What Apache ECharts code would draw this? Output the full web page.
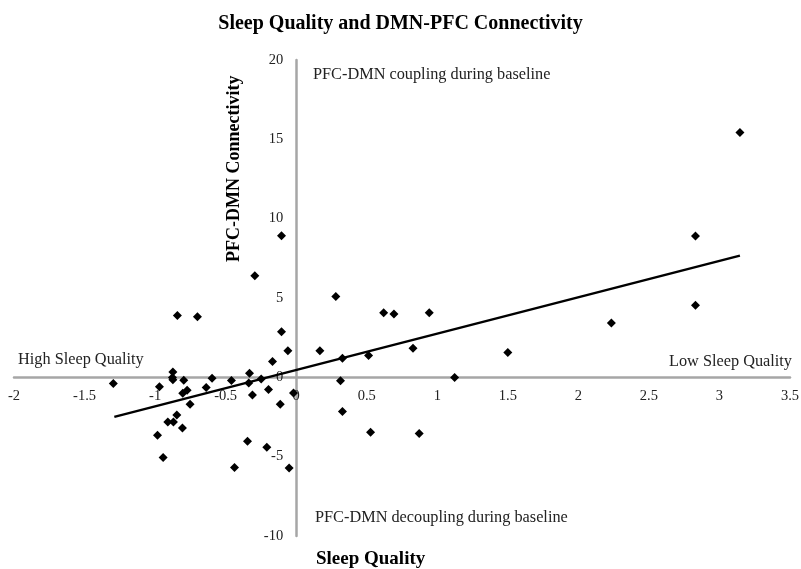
<!DOCTYPE html>
<html>
<head>
<meta charset="utf-8">
<script src="https://cdn.jsdelivr.net/npm/echarts@6/dist/echarts.min.js"></script>
<style>
html, body { margin: 0; padding: 0; background: #fff; }
#chart { width: 801px; height: 569px; }
</style>
</head>
<body>
<div id="chart"></div>
<script>
// sleep quality score (x) and PFC-DMN connectivity (y)
var sleepQuality = [
    3.145, 2.83, 2.83, 2.234, 1.50, -0.104, -0.293, 0.281, 0.62, 0.693,
    0.943, -0.104, -0.059, 0.168, -0.168, 0.328, 0.513, 0.828, -0.331, -0.336,
    -0.248, -0.31, -0.196, -0.113, -0.019, 0.314, 1.123, 0.328, 0.527, 0.872,
    -0.345, -0.208, -0.05, -0.842, -0.70, -0.874, -0.877, -0.874, -0.797, -1.296,
    -0.969, -0.596, -0.459, -0.638, -0.773, -0.804, -0.752, -0.846, -0.91, -0.87,
    -0.806, -0.983, -0.943, -0.437
];
var connectivity = [
    15.43, 8.91, 4.55, 3.42, 1.57, 8.93, 6.40, 5.10, 4.07, 3.99,
    4.07, 2.87, 1.67, 1.67, 1.0, 1.21, 1.38, 1.84, 0.26, -0.35,
    -0.11, -1.12, -0.77, -1.69, -0.98, -0.22, -0.01, -2.16, -3.46, -3.54,
    -4.03, -4.41, -5.71, 3.90, 3.82, 0.33, -0.01, -0.16, -0.18, -0.39,
    -0.60, -0.05, -0.20, -0.64, -0.81, -1.0, -1.69, -2.37, -2.81, -2.81,
    -3.19, -3.65, -5.06, -5.69
];
// linear trend line end points
var trendX = [-1.289, 3.145];
var trendY = [-2.49, 7.67];

var xMin = -2, xMax = 3.5, yMin = -10, yMax = 20;

var points = sleepQuality.map(function (x, i) { return [x, connectivity[i]]; });
var trend = trendX.map(function (x, i) { return [x, trendY[i]]; });

// grid box, axes are shifted so they cross at (0, 0)
var W = 801, H = 569;
var gLeft = 14, gRight = 11, gTop = 60, gBottom = 33;
var gW = W - gLeft - gRight, gH = H - gTop - gBottom;
var xOff = -gW * (0 - xMin) / (xMax - xMin);
var yOff = -gH * (0 - yMin) / (yMax - yMin);

var serif = '"Liberation Serif", "Times New Roman", serif';
var myChart = echarts.init(document.getElementById('chart'));
var option = {
    animation: false,
    title: {
        text: 'Sleep Quality and DMN-PFC Connectivity',
        left: 'center',
        top: 9,
        textStyle: {
            fontFamily: serif,
            fontSize: 20,
            fontWeight: 'bold',
            color: '#000'
        }
    },
    grid: {
        left: gLeft,
        right: gRight,
        top: gTop,
        bottom: gBottom,
        containLabel: false,
        outerBoundsMode: 'none'
    },
    xAxis: {
        type: 'value',
        min: xMin,
        max: xMax,
        interval: 0.5,
        position: 'bottom',
        offset: yOff,
        axisLine: {
            onZero: false,
            lineStyle: { color: '#a6a6a6', width: 2.5 }
        },
        axisTick: { show: false },
        splitLine: { show: false },
        axisLabel: {
            margin: 11,
            fontFamily: serif,
            fontSize: 14.5,
            color: '#222',
            showMinLabel: true,
            showMaxLabel: true,
            hideOverlap: false
        }
    },
    yAxis: {
        type: 'value',
        min: yMin,
        max: yMax,
        interval: 5,
        position: 'left',
        offset: xOff,
        axisLine: {
            onZero: false,
            lineStyle: { color: '#a6a6a6', width: 2.5 }
        },
        axisTick: { show: false },
        splitLine: { show: false },
        axisLabel: {
            margin: 13,
            fontFamily: serif,
            fontSize: 14.5,
            color: '#222',
            hideOverlap: false
        }
    },
    graphic: [
        {
            type: 'text',
            x: 313,
            y: 75,
            style: { text: 'PFC-DMN coupling during baseline', font: '16.3px ' + serif, fill: '#222', textVerticalAlign: 'middle' }
        },
        {
            type: 'text',
            x: 315,
            y: 518,
            style: { text: 'PFC-DMN decoupling during baseline', font: '16.3px ' + serif, fill: '#222', textVerticalAlign: 'middle' }
        },
        {
            type: 'text',
            x: 18,
            y: 360,
            style: { text: 'High Sleep Quality', font: '16.3px ' + serif, fill: '#222', textVerticalAlign: 'middle' }
        },
        {
            type: 'text',
            x: 792,
            y: 362,
            style: { text: 'Low Sleep Quality', font: '16.3px ' + serif, fill: '#222', textAlign: 'right', textVerticalAlign: 'middle' }
        },
        {
            type: 'text',
            x: 316,
            y: 559,
            style: { text: 'Sleep Quality', font: 'bold 19px ' + serif, fill: '#000', textVerticalAlign: 'middle' }
        },
        {
            type: 'text',
            x: 234,
            y: 262,
            rotation: Math.PI / 2,
            style: { text: 'PFC-DMN Connectivity', font: 'bold 18px ' + serif, fill: '#000', textVerticalAlign: 'middle' }
        }
    ],
    series: [
        {
            type: 'scatter',
            data: points,
            symbol: 'diamond',
            symbolSize: 9,
            itemStyle: { color: '#000', opacity: 1 }
        },
        {
            type: 'line',
            data: trend,
            symbol: 'none',
            lineStyle: { color: '#000', width: 2.5 }
        }
    ]
};
myChart.setOption(option);
</script>
</body>
</html>
